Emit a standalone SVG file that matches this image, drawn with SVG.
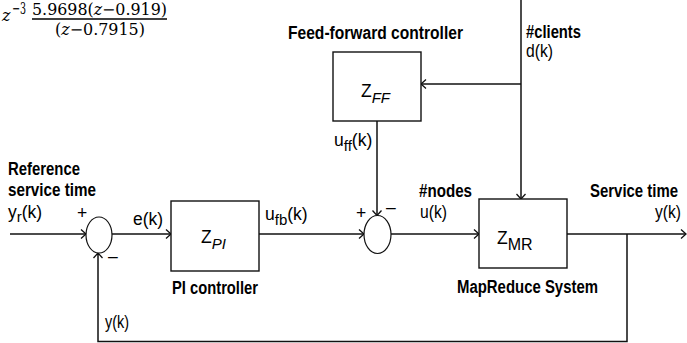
<svg xmlns="http://www.w3.org/2000/svg" width="687" height="343" viewBox="0 0 687 343">
<defs>
<marker id="arr" markerUnits="userSpaceOnUse" markerWidth="12" markerHeight="12" refX="0" refY="0" viewBox="-7 -6 8 12" orient="auto" overflow="visible">
<path d="M-5,-4.5 L0,0 L-5,4.5" fill="none" stroke="#111" stroke-width="1.3"/>
</marker>
<style>
.ln{fill:none;stroke:#111;stroke-width:1.5}
.box{fill:#fff;stroke:#111;stroke-width:1.4}
.sum{fill:#fff;stroke:#111;stroke-width:1.2}
.b{font-family:"Liberation Sans",Arial,sans-serif;font-weight:bold;font-size:17.5px;fill:#000}
.r{font-family:"Liberation Sans",Arial,sans-serif;font-size:17.5px;fill:#000}
.m{font-family:"DejaVu Serif","Liberation Serif",serif;font-size:16px;fill:#000}
</style>
</defs>
<rect width="687" height="343" fill="#fff"/>

<g id="formula">
<text class="m" x="2" y="21" font-style="italic" font-size="18">z</text>
<text class="m" x="12" y="14" font-size="11" textLength="14" lengthAdjust="spacingAndGlyphs">−3</text>
<text class="m" x="32" y="15" textLength="135" lengthAdjust="spacingAndGlyphs">5.9698(<tspan font-style="italic">z</tspan>−0.919)</text>
<line x1="32" y1="19" x2="167" y2="19" stroke="#000" stroke-width="1.5"/>
<text class="m" x="55" y="35" textLength="90" lengthAdjust="spacingAndGlyphs">(<tspan font-style="italic">z</tspan>−0.7915)</text>
</g>

<g id="connectors">
<path class="ln" d="M10,234 H86" marker-end="url(#arr)"/>
<path class="ln" d="M112,234 H171" marker-end="url(#arr)"/>
<path class="ln" d="M259,234 H364" marker-end="url(#arr)"/>
<path class="ln" d="M391,234 H479" marker-end="url(#arr)"/>
<path class="ln" d="M567,234 H686" marker-end="url(#arr)"/>
<path class="ln" d="M627,234 V341.5 H98 V253" marker-end="url(#arr)"/>
<path class="ln" d="M521,0 V199" marker-end="url(#arr)"/>
<path class="ln" d="M521,84 H421" marker-end="url(#arr)"/>
<path class="ln" d="M377,121 V215.5" marker-end="url(#arr)"/>
</g>

<g id="sum1">
<ellipse class="sum" cx="99" cy="235" rx="13" ry="18"/>
<text class="r" x="77" y="219" font-size="15">+</text>
<text class="r" x="108" y="262" font-size="15">–</text>
</g>

<g id="sum2">
<ellipse class="sum" cx="377.5" cy="234.5" rx="13.5" ry="19"/>
<text class="r" x="356" y="219" font-size="15">+</text>
<text class="r" x="386" y="213" font-size="15">–</text>
</g>

<g id="pi">
<rect class="box" x="171" y="201" width="88" height="70"/>
<text class="r" x="201" y="243" font-size="18">Z<tspan font-style="italic" font-size="15" dy="6">PI</tspan></text>
<text class="b" x="172" y="294" textLength="86" lengthAdjust="spacingAndGlyphs">PI controller</text>
</g>

<g id="ff">
<rect class="box" x="333" y="52" width="88" height="69"/>
<text class="r" x="361" y="97" font-size="18">Z<tspan font-style="italic" font-size="15" dy="6">FF</tspan></text>
<text class="b" x="288" y="39" textLength="175" lengthAdjust="spacingAndGlyphs">Feed-forward controller</text>
</g>

<g id="mr">
<rect class="box" x="479" y="199" width="88" height="69"/>
<text class="r" x="497" y="244" font-size="18">Z<tspan font-size="16" dy="6">MR</tspan></text>
<text class="b" x="457" y="293" textLength="141" lengthAdjust="spacingAndGlyphs">MapReduce System</text>
</g>

<g id="labels">
<text class="b" x="8" y="175" textLength="72" lengthAdjust="spacingAndGlyphs">Reference</text>
<text class="b" x="8" y="196" textLength="88" lengthAdjust="spacingAndGlyphs">service time</text>
<text class="r" x="8" y="218">y<tspan font-size="15" dy="4">r</tspan><tspan dy="-4">(k)</tspan></text>
<text class="r" x="133" y="225" textLength="30" lengthAdjust="spacingAndGlyphs">e(k)</text>
<text class="r" x="265" y="220">u<tspan font-size="15" dy="5">fb</tspan><tspan dy="-5">(k)</tspan></text>
<text class="r" x="334" y="146">u<tspan font-size="15" dy="5">ff</tspan><tspan dy="-5">(k)</tspan></text>
<text class="b" x="526" y="38" textLength="55" lengthAdjust="spacingAndGlyphs">#clients</text>
<text class="r" x="526" y="57" textLength="27" lengthAdjust="spacingAndGlyphs">d(k)</text>
<text class="b" x="419" y="197" textLength="53" lengthAdjust="spacingAndGlyphs">#nodes</text>
<text class="r" x="420" y="218" textLength="27" lengthAdjust="spacingAndGlyphs">u(k)</text>
<text class="b" x="590" y="197" textLength="88" lengthAdjust="spacingAndGlyphs">Service time</text>
<text class="r" x="655" y="218" textLength="26" lengthAdjust="spacingAndGlyphs">y(k)</text>
<text class="r" x="105" y="328" textLength="24" lengthAdjust="spacingAndGlyphs">y(k)</text>
</g>
</svg>
